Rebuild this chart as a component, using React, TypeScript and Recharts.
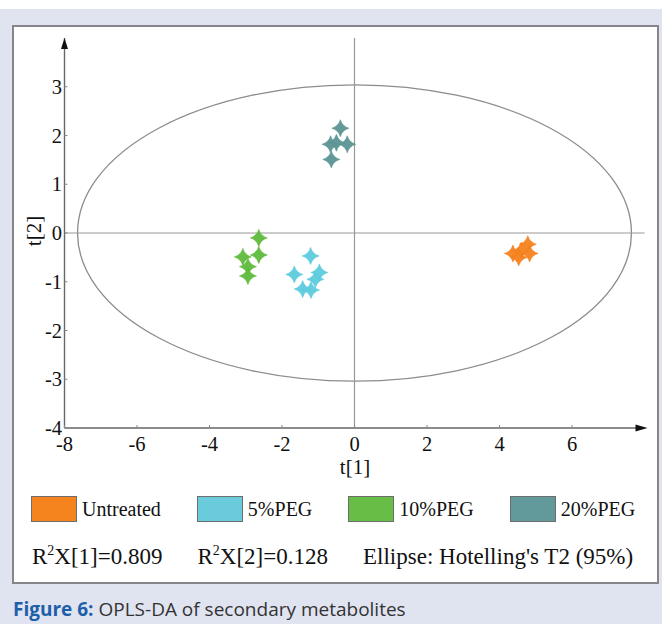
import {
  ScatterChart,
  Scatter,
  XAxis,
  YAxis,
  ReferenceLine,
  ReferenceArea,
  ReferenceDot,
} from "recharts";

// scores, t[1] / t[2] per group
const untreatedT1 = [4.78, 4.37, 4.6, 4.83, 4.53];
const untreatedT2 = [-0.23, -0.42, -0.36, -0.42, -0.5];
const peg5T1 = [-1.21, -1.66, -0.97, -1.08, -1.43, -1.2];
const peg5T2 = [-0.47, -0.85, -0.81, -0.95, -1.15, -1.17];
const peg10T1 = [-2.64, -2.64, -3.08, -2.94, -2.94];
const peg10T2 = [-0.1, -0.45, -0.49, -0.69, -0.88];
const peg20T1 = [-0.39, -0.2, -0.66, -0.5, -0.64];
const peg20T2 = [2.15, 1.82, 1.82, 1.85, 1.51];

const groupNames = ["Untreated", "5%PEG", "10%PEG", "20%PEG"];
const groupT1 = [untreatedT1, peg5T1, peg10T1, peg20T1];
const groupT2 = [untreatedT2, peg5T2, peg10T2, peg20T2];

const xTicks = [-8, -6, -4, -2, 0, 2, 4, 6];
const yTicks = [-4, -3, -2, -1, 0, 1, 2, 3];

// Hotelling's T2 ellipse semi-axes
const ellipseT1 = 7.64;
const ellipseT2 = 3.04;

const r2x1 = "0.809";
const r2x2 = "0.128";

const COLORS = ["#f5821f", "#5ccbdd", "#5fba3c", "#5b9594"];
const BOX = ["#f5841f", "#6acbdc", "#67bd45", "#62999a"];
const SERIF = "'Liberation Serif', 'Times New Roman', serif";

const series = groupNames.map((name, g) => ({
  name,
  points: groupT1[g].map((t1, i) => ({ t1, t2: groupT2[g][i] })),
}));

const Star = (props: any) => {
  const { cx, cy, fill } = props;
  const r = 8.5;
  const k = 1.9;
  const d = `M${cx},${cy - r} Q${cx + k},${cy - k} ${cx + r},${cy} Q${cx + k},${cy + k} ${cx},${cy + r} Q${cx - k},${cy + k} ${cx - r},${cy} Q${cx - k},${cy - k} ${cx},${cy - r} Z`;
  return <path d={d} fill={fill} stroke={fill} strokeWidth={0.6} fillOpacity={0.95} />;
};

const tickText = { fontFamily: SERIF, fontSize: 20.5, fill: "#111" };

const renderXTick = (props: any) => {
  const { x, y, payload } = props;
  return (
    <g key={`xt-${payload.value}`}>
      <line x1={x} x2={x} y1={y} y2={y - 3} stroke="#888" />
      <text x={x} y={y + 23} textAnchor="middle" style={tickText}>
        {payload.value}
      </text>
    </g>
  );
};

const renderYTick = (props: any) => {
  const { x, y, payload } = props;
  return (
    <g key={`yt-${payload.value}`}>
      <line x1={x} x2={x + 3} y1={y} y2={y} stroke="#888" />
      <text x={x - 2.5} y={y + 7} textAnchor="end" style={tickText}>
        {payload.value}
      </text>
    </g>
  );
};

const EllipseShape = (props: any) => {
  const { x, y, width, height } = props;
  return (
    <ellipse
      cx={x + width / 2}
      cy={y + height / 2}
      rx={width / 2}
      ry={height / 2}
      fill="none"
      stroke="#8c8c8c"
      strokeWidth={1.3}
    />
  );
};

const ArrowRight = (props: any) => {
  const { cx, cy } = props;
  return <path d={`M${cx + 3},${cy} L${cx - 9},${cy - 3.5} L${cx - 9},${cy + 3.5} Z`} fill="#111" />;
};

const ArrowUp = (props: any) => {
  const { cx, cy } = props;
  return <path d={`M${cx},${cy} L${cx - 3.5},${cy + 11} L${cx + 3.5},${cy + 11} Z`} fill="#111" />;
};

export default function App() {
  return (
    <div
      style={{
        position: "absolute",
        left: 0,
        top: 0,
        width: 662,
        height: 624,
        background: "#e0e4f0",
        overflow: "hidden",
      }}
    >
      <div style={{ position: "absolute", left: 0, top: 0, width: 662, height: 9, background: "#fff" }} />
      <div
        style={{
          position: "absolute",
          left: 12,
          top: 25,
          width: 647,
          height: 559,
          boxSizing: "border-box",
          background: "#fff",
          border: "2px solid #85858a",
        }}
      />
      <div style={{ position: "absolute", left: 0, top: 0 }}>
        <ScatterChart width={662} height={624} margin={{ top: 38, right: 17.5, bottom: 176, left: 44.5 }}>
          <XAxis
            type="number"
            dataKey="t1"
            domain={[-8, 8]}
            ticks={xTicks}
            height={20}
            tickSize={0}
            tickMargin={0}
            tick={renderXTick}
            tickLine={false}
            axisLine={{ stroke: "#666", strokeWidth: 1.4 }}
            allowDataOverflow
          />
          <YAxis
            type="number"
            dataKey="t2"
            domain={[-4, 4]}
            ticks={yTicks}
            width={20}
            tickSize={0}
            tickMargin={0}
            tick={renderYTick}
            tickLine={false}
            axisLine={{ stroke: "#666", strokeWidth: 1.4 }}
            allowDataOverflow
          />
          <ReferenceArea
            x1={-ellipseT1}
            x2={ellipseT1}
            y1={-ellipseT2}
            y2={ellipseT2}
            shape={<EllipseShape />}
          />
          <ReferenceLine y={0} stroke="#999" strokeWidth={1.2} />
          <ReferenceLine x={0} stroke="#999" strokeWidth={1.2} />
          <ReferenceDot x={8} y={-4} r={0} shape={<ArrowRight />} />
          <ReferenceDot x={-8} y={4} r={0} shape={<ArrowUp />} />
          {series.map((s, g) => (
            <Scatter
              key={s.name}
              name={s.name}
              data={s.points}
              fill={COLORS[g]}
              shape={<Star />}
              isAnimationActive={false}
            />
          ))}
        </ScatterChart>
      </div>

      {/* axis titles */}
      <div
        style={{
          position: "absolute",
          left: 355,
          top: 459,
          transform: "translateX(-50%)",
          fontFamily: SERIF,
          fontSize: 21,
          color: "#111",
          lineHeight: "16px",
        }}
      >
        t[1]
      </div>
      <div
        style={{
          position: "absolute",
          left: 34,
          top: 231,
          transform: "translate(-50%, -50%) rotate(-90deg)",
          fontFamily: SERIF,
          fontSize: 21,
          color: "#111",
          lineHeight: "24px",
        }}
      >
        t[2]
      </div>

      {/* legend */}
      <div
        style={{
          position: "absolute",
          left: 31,
          top: 496,
          display: "flex",
          alignItems: "center",
          gap: 36,
          fontFamily: SERIF,
          fontSize: 20,
          color: "#111",
        }}
      >
        {groupNames.map((name, g) => (
          <div key={name} style={{ display: "flex", alignItems: "center", gap: 5 }}>
            <div
              style={{
                width: 46,
                height: 26,
                boxSizing: "border-box",
                background: BOX[g],
                border: "1px solid #6d6d6d",
              }}
            />
            <span style={{ lineHeight: "26px" }}>{name}</span>
          </div>
        ))}
      </div>

      {/* model statistics */}
      <div
        style={{
          position: "absolute",
          left: 32,
          top: 543,
          display: "flex",
          gap: 35,
          fontFamily: SERIF,
          fontSize: 23,
          color: "#111",
          lineHeight: "28px",
        }}
      >
        <span>
          R<sup style={{ fontSize: 14, lineHeight: 0 }}>2</sup>X[1]={r2x1}
        </span>
        <span>
          R<sup style={{ fontSize: 14, lineHeight: 0 }}>2</sup>X[2]={r2x2}
        </span>
        <span>Ellipse: Hotelling's T2 (95%)</span>
      </div>

      {/* caption */}
      <div
        style={{
          position: "absolute",
          left: 13,
          top: 597,
          fontFamily: "'Open Sans', 'Noto Sans', sans-serif",
          fontSize: 19,
          lineHeight: "24px",
          color: "#333",
          whiteSpace: "nowrap",
        }}
      >
        <span style={{ color: "#1d5fa8", fontWeight: 700 }}>Figure 6:</span> OPLS-DA of secondary metabolites
      </div>
    </div>
  );
}
